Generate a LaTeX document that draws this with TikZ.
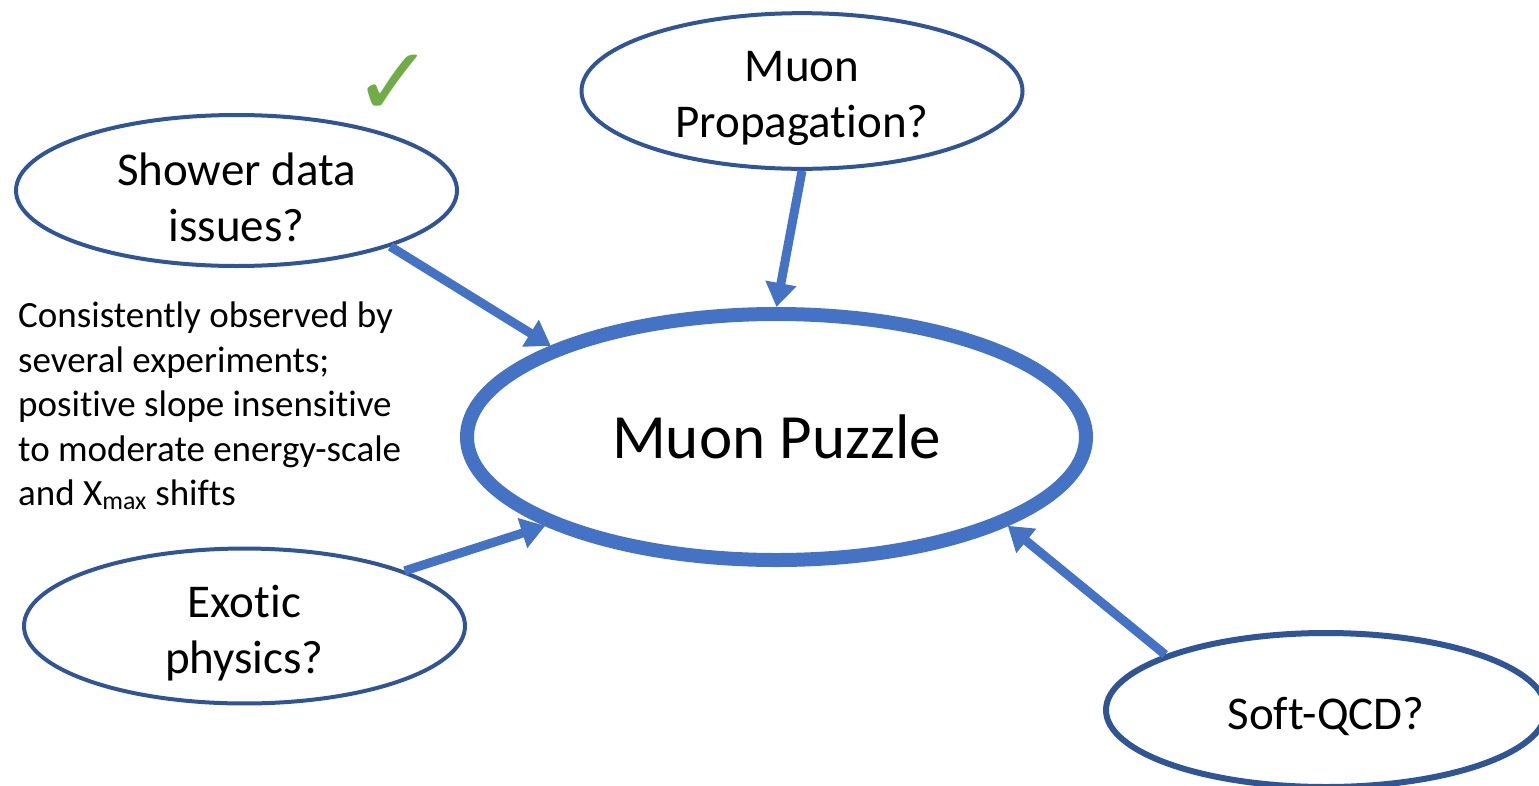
\documentclass[tikz,border=0pt]{standalone}
\usepackage{fontspec}
\setmainfont{Carlito}[Ligatures=NoCommon]
\newfontfamily\symfont{DejaVu Sans}
\usetikzlibrary{shapes.geometric,arrows.meta}
\definecolor{ringblue}{HTML}{2F5597}
\definecolor{arrowblue}{HTML}{4472C4}
\definecolor{tickgreen}{HTML}{70AD47}
\newcommand\tallline{\rule{0pt}{46pt}}
\begin{document}
\begin{tikzpicture}[x=1pt, y=-1pt, line join=round,
		bubble/.style={ellipse, draw=ringblue, line width=4pt, minimum width=441pt, minimum height=151pt, inner sep=0pt, align=center, font=\fontsize{47}{56}\selectfont},
		link/.style={draw=arrowblue, line width=9pt, -{Triangle[width=30pt,length=24pt]}}]
			\useasboundingbox (0,0) rectangle (1539,785);
			\node[bubble] (shower) at (236.5,190.5) {\tallline Shower data\\issues?};
			\node[bubble] (prop) at (802,91) {\tallline Muon\\Propagation?};
			\node[bubble] (exotic) at (244.5,626) {\tallline Exotic\\physics?};
			\node[bubble, line width=6pt, minimum width=440pt, minimum height=154pt] (soft) at (1326,710) {\tallline Soft-QCD?};
			\node[ellipse, draw=arrowblue, line width=14pt, minimum width=619pt, minimum height=246pt, inner sep=0pt, font=\fontsize{63}{76}\selectfont] (puzzle) at (776.5,437) {Muon Puzzle};
			\node[font=\symfont\fontsize{96}{96}\selectfont, text=tickgreen, inner sep=0pt] (tick) at (394,85) {✓};
			\node[anchor=north west, inner sep=0pt, align=left, font=\fontsize{37}{44.5}\selectfont] (note) at (18,302) {Consistently observed by\\several experiments;\\positive slope insensitive\\to moderate energy-scale\\and X\textsubscript{max} shifts};
			\draw[link] (shower.-20) -- (puzzle.158);
			\draw[link] (prop.-90) -- (puzzle.90);
			\draw[link] (exotic.19) -- (puzzle.201);
			\draw[link] (soft.161) -- (puzzle.-21);
	\end{tikzpicture}
\end{document}
